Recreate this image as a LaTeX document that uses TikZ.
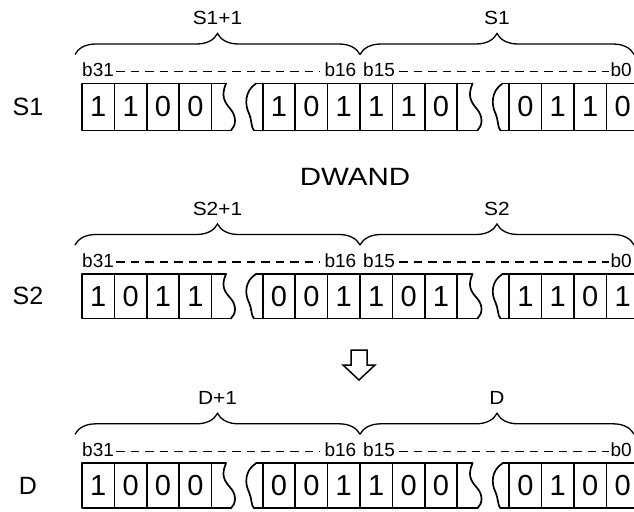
\documentclass[tikz,border=0pt]{standalone}
\usepackage{fontspec}
\setmainfont{Liberation Sans}
\newfontfamily\widefont{Liberation Sans}[FakeStretch=1.18]
\newfontfamily\labfont{Liberation Sans}[FakeStretch=1.1]
\usetikzlibrary{decorations.pathreplacing}

\tikzset{
  cellline/.style={line width=1.7pt, line join=round, line cap=round},
  bracestyle/.style={decorate, decoration={brace, amplitude=21pt}, line width=1.3pt},
  digit/.style={font=\fontsize{29}{29}\selectfont, inner sep=0pt, anchor=center},
  bitlab/.style={font=\fontsize{19}{19}\selectfont, inner sep=0pt},
  toplab/.style={font=\labfont\fontsize{19}{19}\selectfont, inner sep=0pt, anchor=base},
  rowlab/.style={font=\fontsize{25}{25}\selectfont, inner sep=0pt},
  dashline/.style={line width=1.3pt, dash pattern=on 8.5pt off 6pt},
  oplab/.style={font=\widefont\fontsize{25}{25}\selectfont, inner sep=0pt, anchor=base},
  bigarrow/.style={line width=1.5pt, line join=miter},
}

% #1 prefix, #2 top, #3 height, #4 row label, #5 upper-left label, #6 upper-right label,
% #7 left bits, #8 middle bits, #9 right bits
\newcommand\bitrow[9]{%
\begin{scope}[shift={(0,#2)}]
  \begin{scope}[yscale=#3/47]
    % left segment
    \draw[cellline] (226,0) -- (82,0) -- (82,47) -- (231,47);
    \foreach \x in {114.4,146.8,179.2,211.6} \draw[cellline] (\x,0) -- (\x,47);
    \draw[cellline] (226,0) .. controls (221,12) and (224,18) .. (230,25) .. controls (237,33) and (236,42) .. (231,47);
    % middle segment
    \draw[cellline] (256,0) .. controls (244,8) and (245,22) .. (249,30) .. controls (252,37) and (251,44) .. (254,47);
    \draw[cellline] (256,0) -- (472.5,0);
    \draw[cellline] (254,47) -- (477.5,47);
    \foreach \k in {0,...,6} \draw[cellline] (262.7+32.43*\k,0) -- (262.7+32.43*\k,47);
    \begin{scope}[xshift=246.5]
      \draw[cellline] (226,0) .. controls (221,12) and (224,18) .. (230,25) .. controls (237,33) and (236,42) .. (231,47);
      \draw[cellline] (256,0) .. controls (244,8) and (245,22) .. (249,30) .. controls (252,37) and (251,44) .. (254,47);
    \end{scope}
    % right segment
    \draw[cellline] (502.5,0) -- (660,0);
    \draw[cellline] (500.5,47) -- (660,47);
    \foreach \k in {0,...,4} \draw[cellline] (509.2+32.4*\k,0) -- (509.2+32.4*\k,47);
  \end{scope}
  % digits
  \foreach \b [count=\i from 0] in {#7} \node[digit] (#1L\i) at (98.2+32.4*\i, #3/2) {\b};
  \foreach \b [count=\i from 0] in {#8} \node[digit] (#1M\i) at (278.9+32.43*\i, #3/2) {\b};
  \foreach \b [count=\i from 0] in {#9} \node[digit] (#1R\i) at (525.4+32.4*\i, #3/2) {\b};
  % bit labels and dashes
  \node[bitlab, anchor=base west] (#1b31) at (82,-6.5) {b31};
  \node[bitlab, anchor=base east] (#1b16) at (356.5,-6.5) {b16};
  \node[bitlab, anchor=base west] (#1b15) at (363,-6.5) {b15};
  \node[bitlab, anchor=base east] (#1b0) at (632,-6.5) {b0};
  \coordinate (#1dy) at (0,-12);
  \draw[dashline] ([xshift=2pt]#1b31.east |- #1dy) -- ([xshift=-4pt]#1b16.west |- #1dy);
  \draw[dashline] ([xshift=4pt]#1b15.east |- #1dy) -- ([xshift=-1pt]#1b0.west |- #1dy);
  % braces and labels
  \coordinate (#1bl) at (75,-29);
  \coordinate (#1bm) at (360,-29);
  \coordinate (#1br) at (634,-29);
  \draw[bracestyle] (#1bl) -- (#1bm);
  \draw[bracestyle] (#1bm) -- (#1br);
  \node[toplab] (#1hi) at (217.5,-58.5) {#5};
  \node[toplab] (#1lo) at (497,-58.5) {#6};
  % row label
  \node[rowlab] (#1name) at (28,#3/2) {#4};
\end{scope}}

\begin{document}
\begin{tikzpicture}[x=1pt,y=-1pt]
  \useasboundingbox (0,0) rectangle (634,511);
  \fill[white] (0,0) rectangle (634,511);
  \clip (0,0) rectangle (634,511);

  \bitrow{s}{83.5}{47}{S1}{S1+1}{S1}{1,1,0,0}{1,0,1,1,1,0}{0,1,1,0}
  \bitrow{t}{274}{44.5}{S2}{S2+1}{S2}{1,0,1,1}{0,0,1,1,0,1}{1,1,0,1}
  \bitrow{d}{463.3}{45}{D}{D+1}{D}{1,0,0,0}{0,0,1,1,0,0}{0,1,0,0}

  \node[oplab] (op) at (355,185) {DWAND};
  \draw[bigarrow] (351,350) -- (367,350) -- (367,365) -- (375,365) -- (359,380) -- (343,365) -- (351,365) -- cycle;
\end{tikzpicture}
\end{document}
